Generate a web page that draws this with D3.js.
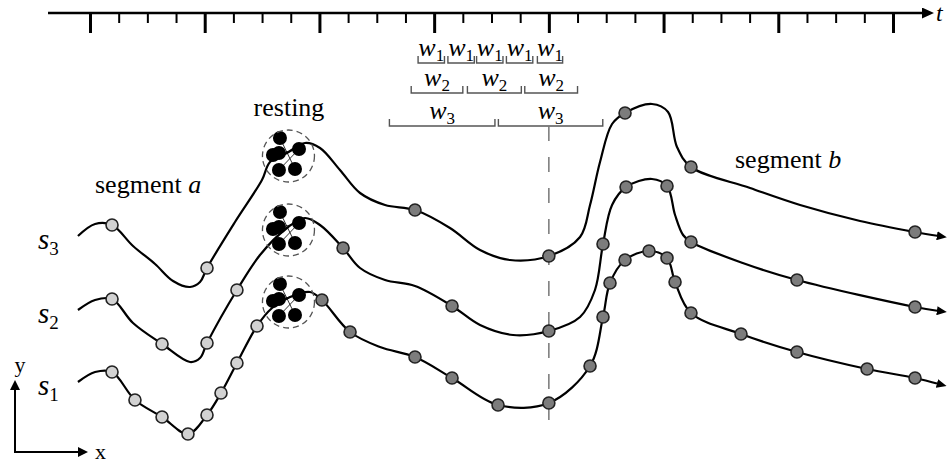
<!DOCTYPE html>
<html>
<head>
<meta charset="utf-8">
<script src="https://cdn.jsdelivr.net/npm/d3@7/dist/d3.min.js"></script>
<style>
body { margin: 0; background: #fff; }
svg { display: block; font-family: "Liberation Serif", "Times New Roman", serif; }
</style>
</head>
<body>
<svg width="948" height="463"></svg>
<script>
// time axis, 10 units per major tick
var majorTicks = [0, 10, 20, 30, 40, 50, 60, 70];
var minorTicks = [2.5, 5, 7.5, 12.5, 15, 17.5, 22.5, 25, 27.5, 32.5, 35, 37.5,
                  42.5, 45, 47.5, 52.5, 55, 57.5, 62.5, 65, 67.5];
var axisExtent = [-3.66, 72.7];

// trajectories: [t, value, kind]  kind 0 = shape only, 1 = segment a sample, 2 = segment b sample
var s3 = [[-1.05,21.4,0],[0.44,22.6,0],[1.92,22.5,1],[3.75,20.4,0],[5.67,18.6,0],[7.24,16.9,0],
  [8.72,16.3,0],[9.59,16.8,0],[10.2,18.2,1],[12.64,22.8,0],[14.99,27.0,0],[15.69,28.8,0],
  [17.17,29.7,0],[18.74,30.7,0],[20.05,30.2,0],[21.79,28.0,0],[23.54,25.7,0],[25.72,24.5,0],
  [28.33,24.0,2],[31.38,22.2,0],[34.0,20.0,0],[36.61,19.0,0],[40.0,19.4,2],[42.72,21.3,0],
  [43.59,24.5,0],[44.46,28.8,0],[45.51,32.6,0],[46.64,33.7,2],[48.99,34.6,0],[50.39,33.8,0],
  [51.17,30.3,0],[52.39,28.3,2],[57.54,26.2,0],[61.9,24.5,0],[67.13,22.9,0],[71.92,21.8,2],
  [74.0,21.4,0]];
var s2 = [[-1.05,14.0,0],[0.44,15.0,0],[1.92,15.1,1],[3.75,12.7,0],[6.28,10.6,1],[8.72,8.8,0],
  [9.59,9.2,0],[10.2,10.7,1],[12.81,16.0,1],[14.82,19.5,0],[17.17,22.2,0],[18.74,23.2,0],
  [20.05,22.5,0],[22.06,20.2,2],[23.54,18.2,0],[25.72,17.0,0],[28.33,16.4,0],[31.56,14.4,2],
  [34.0,12.5,0],[36.88,11.5,0],[40.0,11.9,2],[42.72,13.3,0],[44.02,16.0,0],[44.72,20.6,2],
  [45.51,24.5,0],[46.73,26.3,2],[48.99,27.1,0],[50.3,26.4,2],[51.0,23.5,0],[51.7,21.5,0],
  [52.39,20.8,2],[56.9,18.7,0],[61.63,17.0,2],[71.92,14.3,2],[74.0,13.9,0]];
var s1 = [[-1.05,6.8,0],[0.44,7.8,0],[1.92,7.8,1],[3.92,5.0,1],[6.28,3.3,1],[8.54,1.6,1],
  [10.2,3.5,1],[11.42,5.7,1],[12.81,8.7,1],[14.56,12.4,1],[15.87,14.2,0],[17.44,15.3,0],
  [19.18,15.8,0],[20.22,15.0,2],[22.67,11.8,2],[25.28,10.3,0],[28.33,9.3,2],[31.56,7.2,2],
  [35.57,4.5,2],[40.0,4.7,2],[43.59,8.4,2],[44.72,13.3,2],[45.33,16.7,2],[46.64,19.0,2],
  [48.73,19.9,2],[50.3,19.2,2],[51.0,16.8,2],[52.39,13.7,2],[56.75,11.6,2],[61.63,9.8,2],
  [67.74,8.1,2],[71.92,7.2,2],[74.0,6.6,0]];
var seriesNames = ["3", "2", "1"];

// resting clusters
var restCenters = [[17.17, 29.4], [17.17, 22.0], [17.17, 14.8]];
var restOffsets = [[-0.61, 1.8], [-1.22, 0.1], [-0.7, 0.3], [1.05, 0.7], [-0.7, -1.4], [0.7, -1.3]];
var restLinks = [[0, 5], [3, 4], [1, 3]];

// sliding windows
var w1Windows = [[28.6, 30.9], [31.2, 33.5], [33.7, 36.0], [36.3, 38.6], [39.0, 41.2]];
var w2Windows = [[28.0, 32.5], [32.9, 37.6], [37.9, 42.5]];
var w3Windows = [[26.1, 35.3], [35.6, 44.7]];
var anchorT = 40;

var svg = d3.select("svg");
var x = d3.scaleLinear().domain([0, 70]).range([90, 893]);
var y = d3.scaleLinear().domain([0, 35]).range([450, 100]);

var defs = svg.append("defs");
function marker(id, len, half) {
	defs.append("marker")
		.attr("id", id)
		.attr("markerUnits", "userSpaceOnUse")
		.attr("viewBox", "0 " + (-half) + " " + len + " " + (2 * half))
		.attr("refX", 2).attr("refY", 0)
		.attr("markerWidth", len).attr("markerHeight", 2 * half)
		.attr("orient", "auto")
		.append("path")
		.attr("d", "M0," + (-half) + "L" + len + ",0L0," + half + "Z")
		.attr("fill", "#000");
}
marker("arrT", 12, 5.5);
marker("arrC", 10, 4.5);
marker("arrS", 10, 5);

// time axis
var axisY = 13;
svg.append("line")
	.attr("x1", x(axisExtent[0])).attr("x2", x(axisExtent[1]))
	.attr("y1", axisY).attr("y2", axisY)
	.attr("stroke", "#000").attr("stroke-width", 2.5)
	.attr("marker-end", "url(#arrT)");

var gMaj = svg.append("g")
	.attr("transform", "translate(0," + axisY + ")")
	.call(d3.axisBottom(x).tickValues(majorTicks).tickSize(20).tickSizeOuter(0).tickFormat(""));
gMaj.select(".domain").remove();
gMaj.selectAll("line").attr("stroke", "#000").attr("stroke-width", 3);

var gMin = svg.append("g")
	.attr("transform", "translate(0," + axisY + ")")
	.call(d3.axisBottom(x).tickValues(minorTicks).tickSize(10).tickSizeOuter(0).tickFormat(""));
gMin.select(".domain").remove();
gMin.selectAll("line").attr("stroke", "#000").attr("stroke-width", 2);

svg.append("text")
	.attr("x", 936).attr("y", 21)
	.attr("font-size", 24).attr("font-style", "italic")
	.text("t");

// window brackets
function brackets(list, bottom, sub) {
	var g = svg.append("g");
	g.selectAll("path").data(list).enter().append("path")
		.attr("d", function(d) {
			return "M" + x(d[0]) + "," + (bottom - 7) + "V" + bottom + "H" + x(d[1]) + "V" + (bottom - 7);
		})
		.attr("fill", "none").attr("stroke", "#555").attr("stroke-width", 1.4);
	var t = g.selectAll("text").data(list).enter().append("text")
		.attr("x", function(d) { return (x(d[0]) + x(d[1])) / 2; })
		.attr("y", bottom - 7)
		.attr("text-anchor", "middle")
		.attr("font-size", 26);
	t.append("tspan").attr("font-style", "italic").text("w");
	t.append("tspan").attr("font-size", 17).attr("dy", 5).text(sub);
}
brackets(w1Windows, 63, "1");
brackets(w2Windows, 93, "2");
brackets(w3Windows, 126, "3");

// anchor line
svg.append("line")
	.attr("x1", x(anchorT)).attr("x2", x(anchorT))
	.attr("y1", 126).attr("y2", 436)
	.attr("stroke", "#777").attr("stroke-width", 1.5)
	.attr("stroke-dasharray", "15,16");

// trajectories
var line = d3.line()
	.x(function(d) { return x(d[0]); })
	.y(function(d) { return y(d[1]); })
	.curve(d3.curveCatmullRom.alpha(0.5));

var allSeries = [s3, s2, s1];
allSeries.forEach(function(s, i) {
	svg.append("path")
		.attr("d", line(s))
		.attr("fill", "none").attr("stroke", "#000").attr("stroke-width", 2.2)
		.attr("marker-end", "url(#arrC)");

	var lab = svg.append("text")
		.attr("x", 38).attr("y", y(s[0][1]) + 13)
		.attr("font-size", 29);
	lab.append("tspan").attr("font-style", "italic").text("s");
	lab.append("tspan").attr("font-size", 19).attr("dy", 6).text(seriesNames[i]);
});

allSeries.forEach(function(s) {
	svg.append("g").selectAll("circle")
		.data(s.filter(function(d) { return d[2] > 0; }))
		.enter().append("circle")
		.attr("cx", function(d) { return x(d[0]); })
		.attr("cy", function(d) { return y(d[1]); })
		.attr("r", 6)
		.attr("fill", function(d) { return d[2] == 1 ? "#d2d2d2" : "#7c7c7c"; })
		.attr("stroke", "#222").attr("stroke-width", 1.6);
});

// resting clusters
restCenters.forEach(function(c) {
	var g = svg.append("g");
	var pts = restOffsets.map(function(o) { return [x(c[0] + o[0]), y(c[1] + o[1])]; });
	g.selectAll("line").data(restLinks).enter().append("line")
		.attr("x1", function(l) { return pts[l[0]][0]; })
		.attr("y1", function(l) { return pts[l[0]][1]; })
		.attr("x2", function(l) { return pts[l[1]][0]; })
		.attr("y2", function(l) { return pts[l[1]][1]; })
		.attr("stroke", "#000").attr("stroke-width", 0.8);
	g.selectAll("circle.rest").data(pts).enter().append("circle")
		.attr("class", "rest")
		.attr("cx", function(p) { return p[0]; })
		.attr("cy", function(p) { return p[1]; })
		.attr("r", 7).attr("fill", "#000");
	g.append("circle")
		.attr("cx", x(c[0]) + 1.5).attr("cy", y(c[1]))
		.attr("r", 26)
		.attr("fill", "none").attr("stroke", "#555").attr("stroke-width", 1.3)
		.attr("stroke-dasharray", "6,4");
});

// annotations
svg.append("text").attr("x", 289).attr("y", 116)
	.attr("text-anchor", "middle").attr("font-size", 26).text("resting");
var ta = svg.append("text").attr("x", 95).attr("y", 193).attr("font-size", 26);
ta.append("tspan").text("segment ");
ta.append("tspan").attr("font-style", "italic").text("a");
var tb = svg.append("text").attr("x", 735).attr("y", 168).attr("font-size", 26);
tb.append("tspan").text("segment ");
tb.append("tspan").attr("font-style", "italic").text("b");

// spatial axes glyph
svg.append("line").attr("x1", 15).attr("y1", 452).attr("x2", 15).attr("y2", 388)
	.attr("stroke", "#000").attr("stroke-width", 2).attr("marker-end", "url(#arrS)");
svg.append("line").attr("x1", 14).attr("y1", 452).attr("x2", 80).attr("y2", 452)
	.attr("stroke", "#000").attr("stroke-width", 2).attr("marker-end", "url(#arrS)");
svg.append("text").attr("x", 20).attr("y", 372).attr("text-anchor", "middle")
	.attr("font-size", 22).text("y");
svg.append("text").attr("x", 95).attr("y", 459).attr("font-size", 22).text("x");
</script>
</body>
</html>
